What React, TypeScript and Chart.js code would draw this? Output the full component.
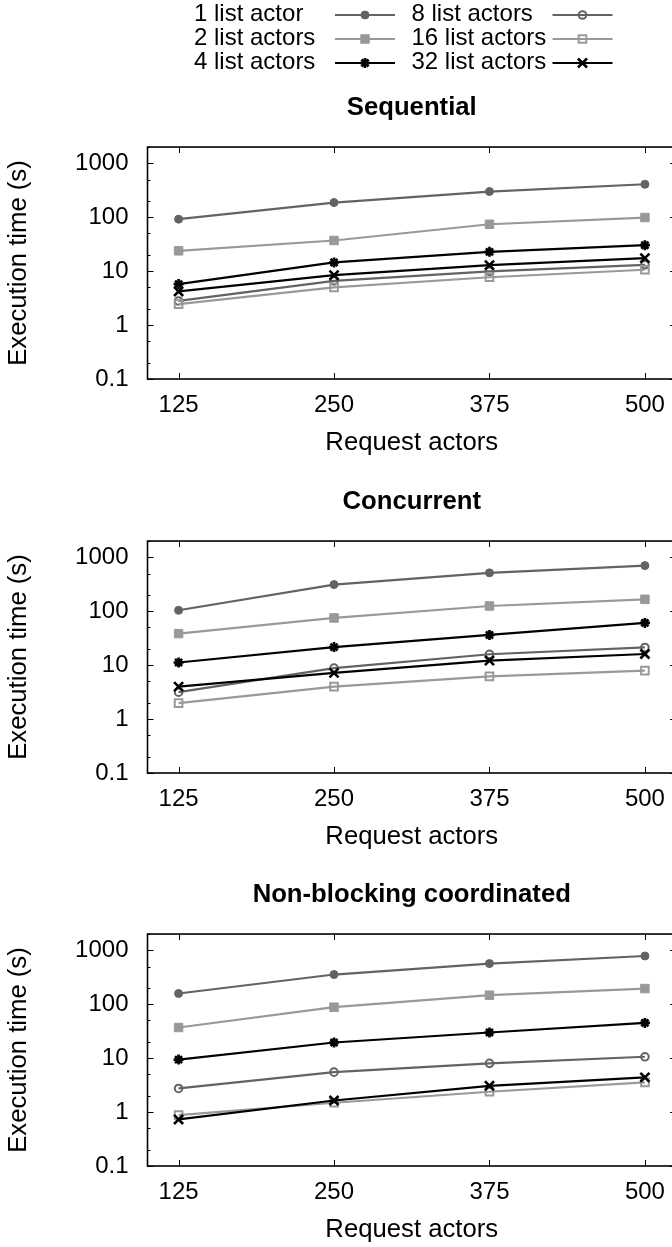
import React, { useEffect, useRef } from 'react';
import { Chart, registerables } from 'chart.js';
import { drawPoint } from 'chart.js/helpers';

Chart.register(...registerables);

// ---------- data ----------
const requestActors = [125, 250, 375, 500];
const xTickValues = [125, 250, 375, 500];
const yTickValues = [0.1, 0.2, 0.5, 1, 2, 5, 10, 20, 50, 100, 200, 500, 1000, 2000];
const yLabeledTicks = [0.1, 1, 10, 100, 1000];

const seriesLabels = [
  '1 list actor',
  '2 list actors',
  '4 list actors',
  '8 list actors',
  '16 list actors',
  '32 list actors',
];

const panelTitles = ['Sequential', 'Concurrent', 'Non-blocking coordinated'];

// Sequential
const seq1 = [92, 187, 299, 408];
const seq2 = [23.8, 37, 74, 98.6];
const seq4 = [5.75, 14.5, 22.8, 30.3];
const seq8 = [2.8, 6.6, 9.9, 13.1];
const seq16 = [2.45, 5.0, 7.7, 10.6];
const seq32 = [4.2, 8.4, 12.9, 17.4];

// Concurrent
const con1 = [104, 312, 514, 701];
const con2 = [38.4, 75, 125, 166];
const con4 = [11.2, 21.6, 36.3, 60.7];
const con8 = [3.15, 8.8, 15.9, 21.3];
const con16 = [1.97, 4.0, 6.2, 7.9];
const con32 = [4.0, 7.2, 12.1, 16.1];

// Non-blocking coordinated
const nbc1 = [158, 355, 567, 784];
const nbc2 = [37, 88, 147, 195];
const nbc4 = [9.4, 19.5, 29.9, 45];
const nbc8 = [2.74, 5.5, 8.0, 10.6];
const nbc16 = [0.88, 1.49, 2.38, 3.55];
const nbc32 = [0.73, 1.64, 3.07, 4.4];

const panelSeries = [
  [seq1, seq2, seq4, seq8, seq16, seq32],
  [con1, con2, con4, con8, con16, con32],
  [nbc1, nbc2, nbc4, nbc8, nbc16, nbc32],
];

// ---------- style ----------
const FONT = '"Liberation Sans", Arial, Helvetica, sans-serif';
const TICK_SIZE = 24;
const LABEL_SIZE = 25.7;
const DARK = '#636363';
const LIGHT = '#999999';
const BLACK = '#000000';
const NONE = 'rgba(0,0,0,0)';

const seriesStyles = [
  { color: DARK, pointStyle: 'circle', radius: 4, fill: DARK, pbw: 1 },
  { color: LIGHT, pointStyle: 'rect', radius: 6, fill: LIGHT, pbw: 1 },
  { color: BLACK, pointStyle: 'star', radius: 5, fill: BLACK, pbw: 2.6 },
  { color: DARK, pointStyle: 'circle', radius: 3.8, fill: NONE, pbw: 2 },
  { color: LIGHT, pointStyle: 'rect', radius: 5.4, fill: NONE, pbw: 2 },
  { color: BLACK, pointStyle: 'crossRot', radius: 6.4, fill: BLACK, pbw: 2.6 },
];

const CANVAS_W = 690;
const CANVAS_H = 458;
const X_AXIS_H = 79;
const panelTops = [0, 394, 787];

const framePlugin = {
  id: 'gnuFrame',
  afterDatasetsDraw(chart: any) {
    const { ctx, chartArea: a, scales } = chart;
    const x = scales.x;
    const y = scales.y;
    ctx.save();
    ctx.strokeStyle = '#000';
    ctx.lineWidth = 1;
    ctx.beginPath();
    y.ticks.forEach((t: any) => {
      const py = Math.round(y.getPixelForValue(t.value)) + 0.5;
      const len = yLabeledTicks.includes(t.value) ? 6 : 3;
      ctx.moveTo(a.left, py);
      ctx.lineTo(a.left + len, py);
      ctx.moveTo(a.right, py);
      ctx.lineTo(a.right - len, py);
    });
    x.ticks.forEach((t: any) => {
      const px = Math.round(x.getPixelForValue(t.value)) + 0.5;
      ctx.moveTo(px, a.bottom);
      ctx.lineTo(px, a.bottom - 6);
      ctx.moveTo(px, a.top);
      ctx.lineTo(px, a.top + 6);
    });
    ctx.stroke();
    ctx.lineWidth = 1.6;
    ctx.strokeRect(a.left, a.top, a.right - a.left, a.bottom - a.top);
    ctx.restore();
  },
};

const legendPlugin = {
  id: 'gnuLegend',
  afterDraw(chart: any, _args: any, opts: any) {
    if (!opts || !opts.show) return;
    const ctx = chart.ctx;
    ctx.save();
    chart.data.datasets.forEach((ds: any, i: number) => {
      const col = Math.floor(i / 3);
      const row = i % 3;
      const tx = opts.textX[col];
      const ty = opts.y0 + row * opts.dy;
      ctx.font = `${TICK_SIZE}px ${FONT}`;
      ctx.fillStyle = '#000';
      ctx.textAlign = 'left';
      ctx.textBaseline = 'middle';
      ctx.fillText(ds.label, tx, ty);
      const lx0 = tx + opts.sampleOffset;
      const lx1 = lx0 + opts.sampleLen;
      const ly = ty + opts.lineDy;
      ctx.strokeStyle = ds.borderColor;
      ctx.lineWidth = ds.borderWidth;
      ctx.beginPath();
      ctx.moveTo(lx0, ly);
      ctx.lineTo(lx1, ly);
      ctx.stroke();
      ctx.fillStyle = ds.pointBackgroundColor;
      ctx.strokeStyle = ds.pointBorderColor;
      ctx.lineWidth = ds.pointBorderWidth;
      drawPoint(
        ctx,
        { pointStyle: ds.pointStyle, rotation: 0, radius: ds.pointRadius, borderWidth: ds.pointBorderWidth },
        (lx0 + lx1) / 2,
        ly
      );
    });
    ctx.restore();
  },
};

function Panel({ index }: { index: number }) {
  const ref = useRef<HTMLCanvasElement | null>(null);
  useEffect(() => {
    if (!ref.current) return;
    const series = panelSeries[index];
    const chart = new Chart(ref.current, {
      type: 'line',
      data: {
        datasets: series.map((vals, i) => {
          const st = seriesStyles[i];
          return {
            label: seriesLabels[i],
            data: requestActors.map((x, k) => ({ x, y: vals[k] })),
            borderColor: st.color,
            borderWidth: 2.2,
            backgroundColor: st.fill,
            pointStyle: st.pointStyle,
            pointRadius: st.radius,
            pointHoverRadius: st.radius,
            pointBackgroundColor: st.fill,
            pointBorderColor: st.color,
            pointBorderWidth: st.pbw,
            tension: 0,
            fill: false,
            order: series.length - i,
          };
        }),
      },
      options: {
        responsive: false,
        animation: false,
        devicePixelRatio: 1,
        events: [],
        layout: { padding: { top: 92.8, left: 0, right: CANVAS_W - 676, bottom: 0 } },
        plugins: {
          legend: { display: false },
          tooltip: { enabled: false },
          title: {
            display: true,
            text: panelTitles[index],
            fullSize: false,
            color: '#000',
            font: { size: LABEL_SIZE, weight: 'bold', family: FONT },
            padding: { top: 0, bottom: 23.4 },
          },
          gnuLegend: {
            show: index === 0,
            textX: [194, 411.5],
            y0: 14,
            dy: 24,
            lineDy: 1,
            sampleOffset: 141,
            sampleLen: 60,
          },
        } as any,
        scales: {
          x: {
            type: 'linear',
            min: 100,
            max: 525,
            afterBuildTicks: (s: any) => {
              s.ticks = xTickValues.map((v) => ({ value: v }));
            },
            afterFit: (s: any) => {
              s.height = X_AXIS_H;
            },
            grid: { display: false, drawTicks: false },
            border: { display: false },
            ticks: {
              color: '#000',
              font: { size: TICK_SIZE, family: FONT },
              padding: 12,
              maxRotation: 0,
              autoSkip: false,
              callback: (v: any) => String(v),
            },
            title: {
              display: true,
              text: 'Request actors',
              color: '#000',
              font: { size: LABEL_SIZE, family: FONT },
              padding: { top: 0, bottom: 0 },
            },
          },
          y: {
            type: 'logarithmic',
            min: 0.1,
            max: 2000,
            afterBuildTicks: (s: any) => {
              s.ticks = yTickValues.map((v) => ({ value: v }));
            },
            afterFit: (s: any) => {
              s.width = 147.5;
            },
            grid: { display: false, drawTicks: false },
            border: { display: false },
            ticks: {
              color: '#000',
              font: { size: TICK_SIZE, family: FONT },
              padding: 19,
              autoSkip: false,
              callback: (v: any) => (yLabeledTicks.includes(v) ? String(v) : ''),
            },
            title: {
              display: true,
              text: 'Execution time (s)',
              color: '#000',
              font: { size: LABEL_SIZE, family: FONT },
              padding: { top: 3.6, bottom: 0 },
            },
          },
        },
      } as any,
      plugins: [framePlugin, legendPlugin],
    });
    return () => chart.destroy();
  }, [index]);
  return (
    <canvas
      ref={ref}
      width={CANVAS_W}
      height={CANVAS_H}
      style={{ position: 'absolute', left: 0, top: panelTops[index], width: CANVAS_W, height: CANVAS_H }}
    />
  );
}

export default function App() {
  return (
    <div
      style={{
        position: 'absolute',
        left: 0,
        top: 0,
        width: 672,
        height: 1247,
        overflow: 'hidden',
        background: '#fff',
      }}
    >
      <Panel index={0} />
      <Panel index={1} />
      <Panel index={2} />
    </div>
  );
}
